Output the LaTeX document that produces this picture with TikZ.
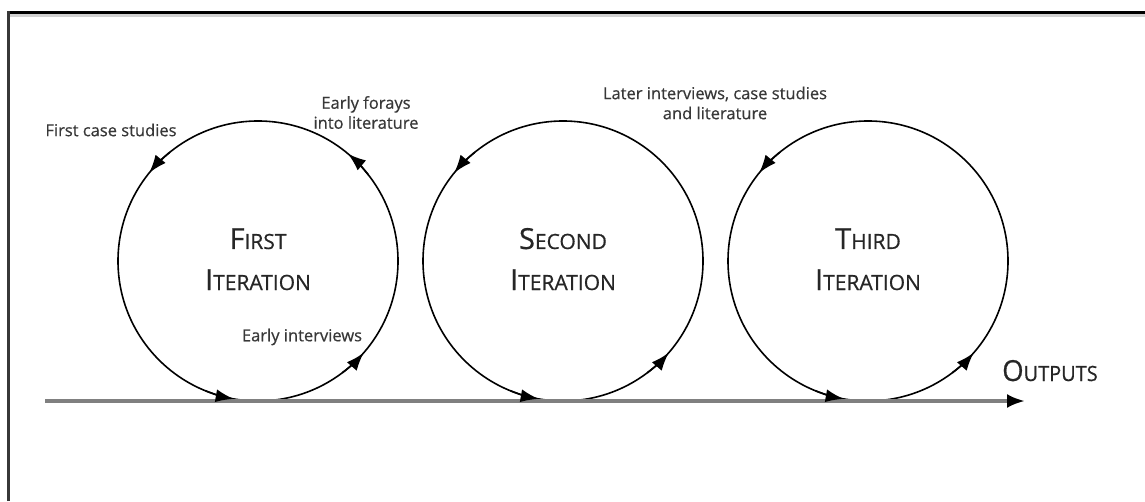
\documentclass[tikz,border=0pt]{standalone}
\usepackage{fontspec}
\setmainfont{Open Sans}
\newfontfamily\titlefont{Open Sans}[FakeBold=0.6]
\newfontfamily\notefont{Open Sans}[FakeBold=0.5]
\usetikzlibrary{arrows.meta}

% small caps made by hand: a large initial followed by smaller capitals
\newcommand\capword[2]{{\titlefont\fontsize{29}{29}\selectfont #1}{\titlefont\fontsize{21}{21}\selectfont #2}}

\tikzset{
  loopcircle/.style={circle, draw=black, line width=1.6pt, minimum size=280pt,
    inner sep=0pt, outer sep=0pt},
  looptip/.style={draw=black, line width=1.6pt,
    -{Latex[length=18pt,width=13pt]}},
  flow/.style={draw=black!50, line width=3.5pt,
    -{Latex[length=18pt,width=14pt,black]}},
  title/.style={anchor=base, inner sep=0pt, text=black!85},
  note/.style={align=center, inner sep=0pt, text=black!78,
    font=\notefont\fontsize{16.5}{20}\selectfont},
  frametop/.style={draw=black, line width=3pt},
  frameleft/.style={draw=black!78, line width=3pt},
}

\begin{document}
\begin{tikzpicture}[x=1pt, y=1pt]
  \useasboundingbox (0,0) rectangle (1145,501);
  \fill[white] (0,0) rectangle (1145,501);

  % frame edges
  \draw[black!18, line width=3pt] (10,485.5) -- (1145,485.5);
  \draw[frametop] (7,488.5) -- (1145,488.5);
  \draw[frameleft] (8.5,0) -- (8.5,490);

  % the three iterations
  \node[loopcircle] (c1) at (258,240) {};
  \node[loopcircle] (c2) at (563,240) {};
  \node[loopcircle] (c3) at (868,240) {};

  \node[title] (t1a) at (258,252) {\capword{F}{IRST}};
  \node[title] (t1b) at (258,211) {\capword{I}{TERATION}};
  \node[title] (t2a) at (563,252) {\capword{S}{ECOND}};
  \node[title] (t2b) at (563,211) {\capword{I}{TERATION}};
  \node[title] (t3a) at (868,252) {\capword{T}{HIRD}};
  \node[title] (t3b) at (868,211) {\capword{I}{TERATION}};

  % main line running through the iterations
  \coordinate (start) at (45,100);
  \coordinate (end) at (1025,100);
  \draw[flow] (start) -- (end);
  \node[anchor=base west, inner sep=0pt, text=black!85, xscale=0.95] (out) at (1002,120)
    {\capword{O}{UTPUTS}};

  % direction marks on each circle (anticlockwise)
  \foreach \c in {c1,c2,c3}{
    \draw[looptip] (\c.-112) arc[start angle=-112, end angle=-100, radius=140pt];
    \draw[looptip] (\c.-53) arc[start angle=-53, end angle=-41, radius=140pt];
    \draw[looptip] (\c.129) arc[start angle=129, end angle=141, radius=140pt];
  }
  \draw[looptip] (c1.38) arc[start angle=38, end angle=50, radius=140pt];

  % annotations
  \node[note] (n1) at (111,371) {First case studies};
  \node[note] (n2) at (366,388.5) {Early forays\\into literature};
  \node[note] (n3) at (302,164) {Early interviews};
  \node[note] (n4) at (715,398) {Later interviews, case studies\\and literature};
\end{tikzpicture}
\end{document}
